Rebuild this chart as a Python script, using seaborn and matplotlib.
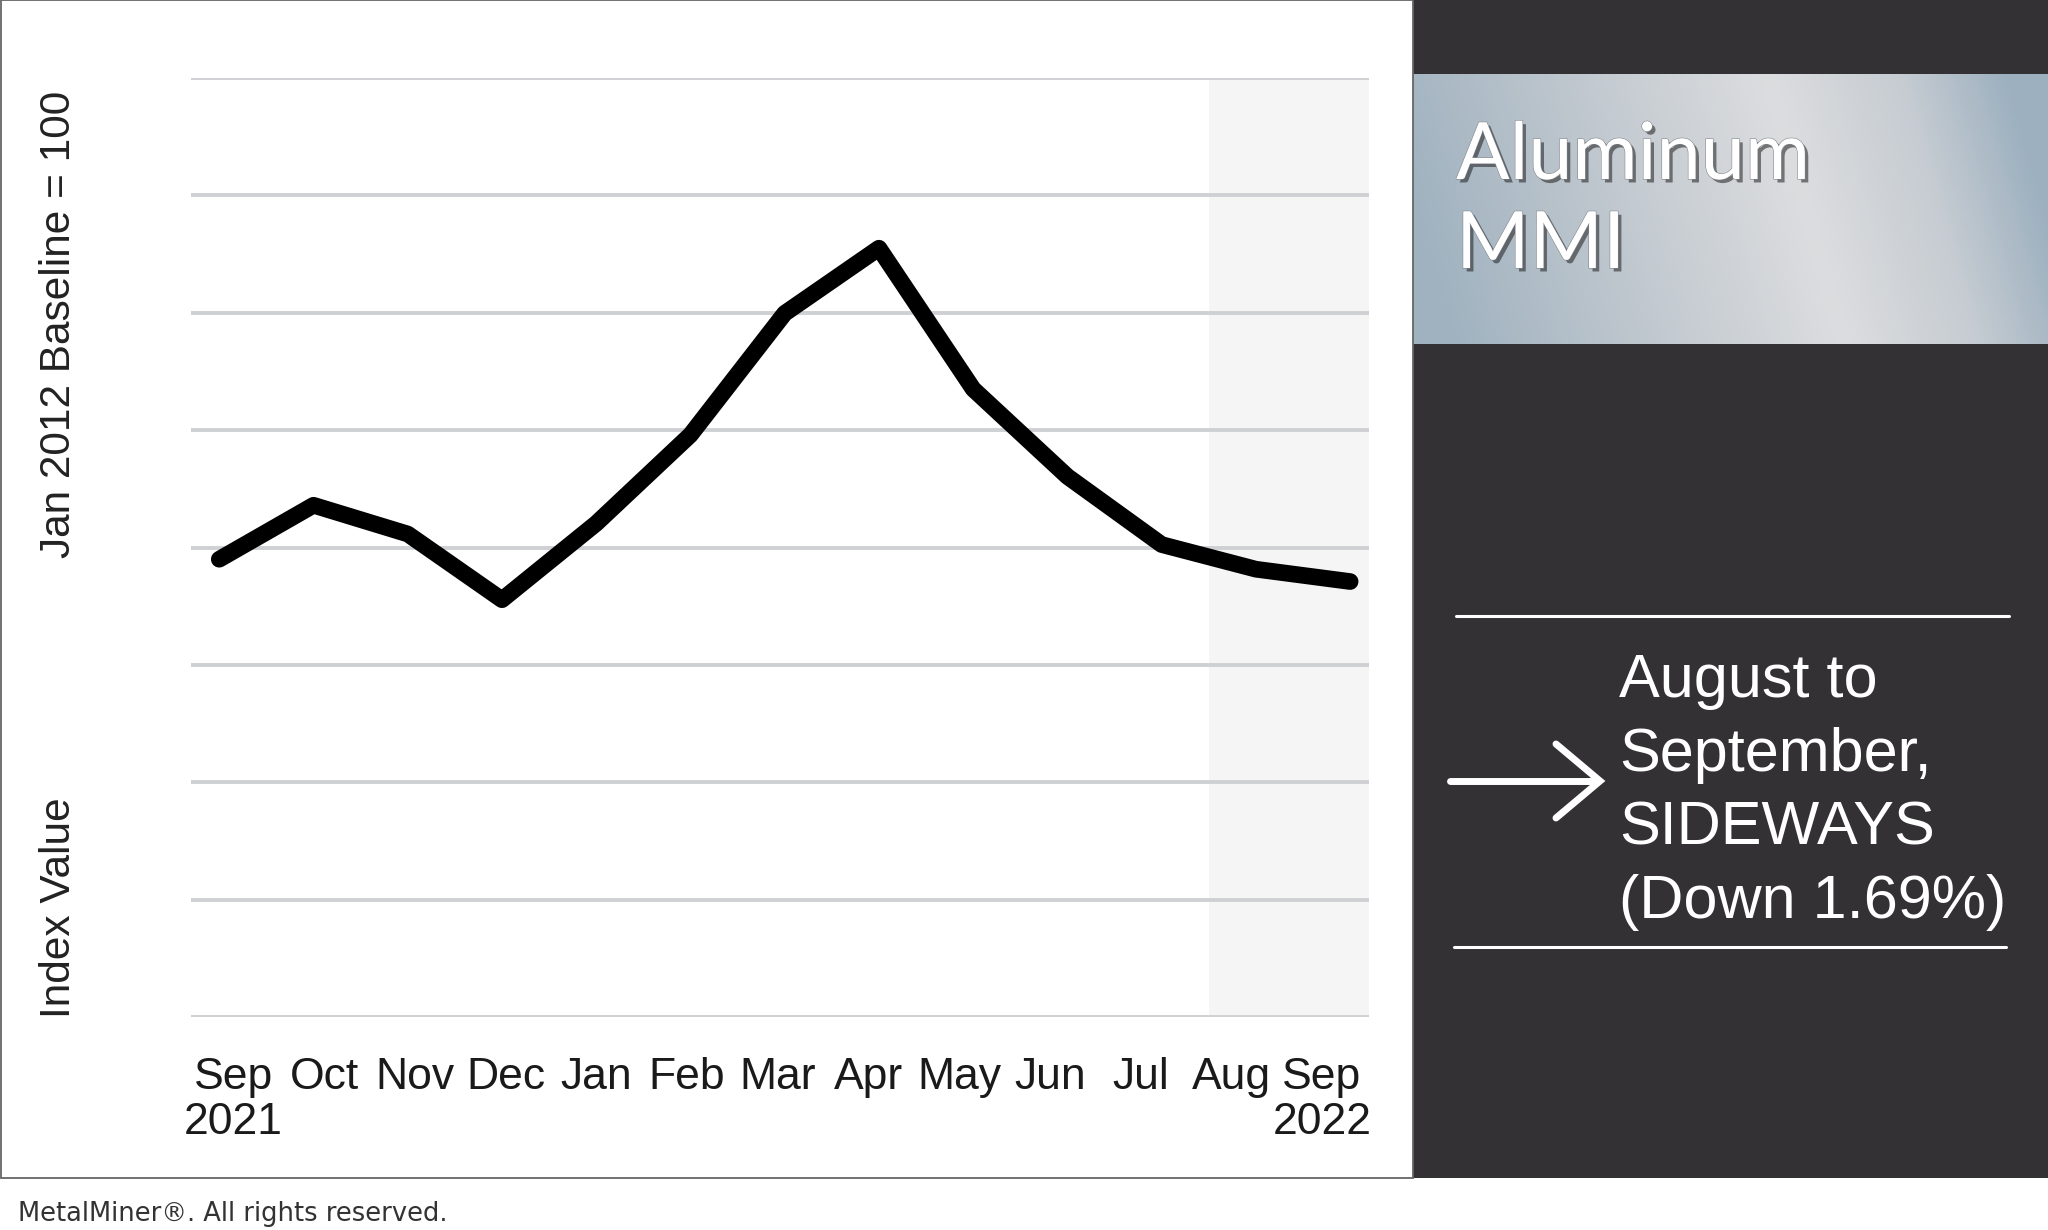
import numpy as np
import pandas as pd
import matplotlib; matplotlib.use("Agg")
import matplotlib.pyplot as plt
import matplotlib.patches as mpatches
import matplotlib.patheffects as pe
from matplotlib.lines import Line2D
from matplotlib.colors import LinearSegmentedColormap
import seaborn as sns

# ── DATA ──────────────────────────────────────────────────────────────────────
MONTHS = ["Sep", "Oct", "Nov", "Dec", "Jan", "Feb", "Mar",
          "Apr", "May", "Jun", "Jul", "Aug", "Sep"]
YEARS = ["2021", "", "", "", "", "", "", "", "", "", "", "", "2022"]
INDEX_VALUE = [128.0, 137.2, 132.3, 121.1, 134.1, 149.2, 169.9,
               181.0, 157.0, 142.1, 130.5, 126.3, 124.2]
GRID_LEVELS = [50, 70, 90, 110, 130, 150, 170, 190, 210]
TREND_LINES = ["August to", "September,", "SIDEWAYS", "(Down 1.69%)"]

DARK = "#333134"; GRID = "#cfd0d3"; SHADE = "#f4f5f4"

sns.set_theme(style="white")
plt.rcParams["font.family"] = ["Liberation Sans", "DejaVu Sans"]

W, H = 2048, 1230
fig = plt.figure(figsize=(W / 100, H / 100), dpi=100, facecolor="white")

def fx(px): return px / W
def fy(py): return 1 - py / H

# dark right panel
fig.patches.append(mpatches.Rectangle((fx(1413), fy(1178)), 1 - fx(1413), 1 - fy(1178) + 0.001,
                                      transform=fig.transFigure, facecolor=DARK,
                                      edgecolor="none", zorder=-5))
# border around white panel
fig.patches.append(mpatches.Rectangle((fx(1), fy(1178)), fx(1412), 1 - fy(1178) - fx(1) * 0.5,
                                      transform=fig.transFigure, facecolor="none",
                                      edgecolor="#666666", lw=1.3, zorder=5))

# ── main chart ────────────────────────────────────────────────────────────────
df = pd.DataFrame({"pos": np.arange(len(MONTHS)), "value": INDEX_VALUE})
ax = fig.add_axes([fx(191), fy(1017), fx(1369) - fx(191), fy(78) - fy(1017)])
ax.set_facecolor("white")
ax.axvspan(10.5, 12.2, color=SHADE, zorder=0.2, lw=0)
sns.lineplot(data=df, x="pos", y="value", ax=ax, color="black", lw=12,
             solid_capstyle="round", solid_joinstyle="round", zorder=3)
ax.set_xlim(-0.30, 12.2)
ax.set_ylim(GRID_LEVELS[0], GRID_LEVELS[-1])
ax.set_yticks(GRID_LEVELS)
ax.set_yticklabels([])
ax.yaxis.grid(True, color=GRID, lw=2.8, zorder=0.5)
ax.xaxis.grid(False)
for s in ax.spines.values():
    s.set_visible(False)
ax.set_xlabel(""); ax.set_ylabel("")
ax.set_xticks(np.linspace(0.15, 11.7, len(MONTHS)))
ax.set_xticklabels([f"{m}\n{y}" if y else m for m, y in zip(MONTHS, YEARS)],
                   fontsize=32, color="#1a1a1a", linespacing=1.12, va="top")
ax.tick_params(axis="x", length=0, pad=29)
ax.tick_params(axis="y", length=0)

fig.text(fx(59), fy(324), "Jan 2012 Baseline = 100", rotation=90, ha="center",
         va="center", fontsize=30.5, color="#222222")
fig.text(fx(59), fy(908), "Index Value", rotation=90, ha="center",
         va="center", fontsize=30.5, color="#222222")

# ── title box with metallic gradient ─────────────────────────────────────────
gax = fig.add_axes([fx(1413), fy(344), 1 - fx(1413), fy(74) - fy(344)], zorder=2)
gx, gy = np.meshgrid(np.linspace(0, 1, 500), np.linspace(0, 1, 200))
metal = LinearSegmentedColormap.from_list(
    "metal", [(0, "#a0b2c0"), (0.30, "#bfc7ce"), (0.62, "#dcdddf"),
              (0.83, "#c6ccd2"), (1, "#9cb0bf")])
gax.imshow(np.clip(gx + 0.12 * gy - 0.06, 0, 1), cmap=metal, aspect="auto",
           extent=[0, 1, 0, 1], origin="lower", vmin=0, vmax=1)
gax.set_axis_off()

shadow = [pe.SimplePatchShadow(offset=(2.5, -2.5), shadow_rgbFace="#1e1e1e", alpha=0.55),
          pe.Stroke(linewidth=0.8, foreground="#80858c"),
          pe.Normal()]
fig.text(fx(1456), fy(179), "Aluminum", fontsize=57, color="white", va="baseline",
         family=["Lato", "DejaVu Sans"], path_effects=shadow, zorder=6)
fig.text(fx(1456), fy(268), "MMI", fontsize=57, color="white", va="baseline",
         family=["Lato", "DejaVu Sans"], path_effects=shadow, zorder=6)

# ── trend annotation ─────────────────────────────────────────────────────────
for y0, x0, x1 in [(616, 1456, 2009), (947, 1454, 2006)]:
    fig.lines.append(Line2D([fx(x0), fx(x1)], [fy(y0), fy(y0)], transform=fig.transFigure,
                            color="white", lw=2.2, zorder=6))
fig.lines.append(Line2D([fx(1450), fx(1598)], [fy(781), fy(781)], transform=fig.transFigure,
                        color="white", lw=5, zorder=6))
fig.lines.append(Line2D([fx(1556), fx(1600), fx(1556)], [fy(744), fy(781), fy(818)],
                        transform=fig.transFigure, color="white", lw=5,
                        solid_joinstyle="miter", zorder=6))
for i, line in enumerate(TREND_LINES):
    fig.text(fx(1619), fy(697 + i * 73.7), line, fontsize=44, color="white",
             va="baseline", ha="left", zorder=6)

fig.text(fx(18), fy(1221), "MetalMiner®. All rights reserved.", fontsize=18.5,
         color="#333333", va="baseline", family=["DejaVu Sans"])

fig.savefig("out.png", dpi=100, facecolor="white")
